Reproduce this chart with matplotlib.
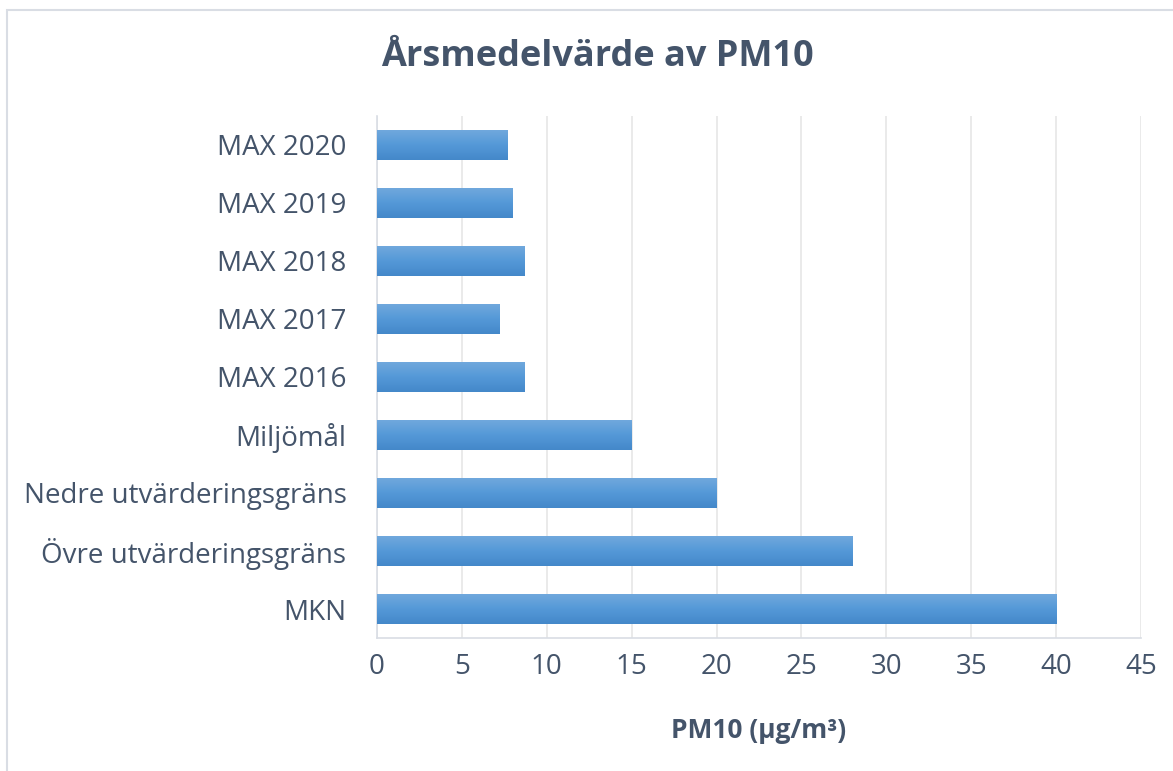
import numpy as np
import matplotlib
matplotlib.use("Agg")
from matplotlib import pyplot as plt
from matplotlib.patches import Rectangle

# data
categories = ["MKN", "Övre utvärderingsgräns", "Nedre utvärderingsgräns", "Miljömål",
              "MAX 2016", "MAX 2017", "MAX 2018", "MAX 2019", "MAX 2020"]
values = [40, 28, 20, 15, 8.7, 7.2, 8.7, 8.0, 7.7]
xticks = [0, 5, 10, 15, 20, 25, 30, 35, 40, 45]

txt = "#44546A"
plt.rcParams['font.family'] = ['Open Sans', 'DejaVu Sans']

fig = plt.figure(figsize=(11.73, 7.71), dpi=100)
ax = fig.add_axes([377/1173, 1 - 638/771, (1141 - 377)/1173, (638 - 116)/771])

# chart frame
fig.patches.append(Rectangle((7/1173, -0.05), 1.1, 1.05 - 10/771,
                             transform=fig.transFigure, fill=False,
                             edgecolor="#D9DDE4", linewidth=1.5))

y = np.arange(len(categories))
bars = ax.barh(y, values, height=0.52, color="#5B9BD5", zorder=2)

# vertical gradient inside each bar, light on top
grad = np.linspace(0, 1, 64).reshape(-1, 1)
cmap = matplotlib.colors.LinearSegmentedColormap.from_list("g", ["#72A9DD", "#5599D8", "#4488C9"])
for b in bars:
    x0, y0, w, h = b.get_x(), b.get_y(), b.get_width(), b.get_height()
    im = ax.imshow(grad, extent=[x0, x0 + w, y0, y0 + h], aspect="auto",
                   cmap=cmap, zorder=3, origin="upper")
    im.set_clip_path(b)

ax.set_xlim(0, 45)
ax.set_ylim(-0.5, len(categories) - 0.5)
ax.set_xticks(xticks)
ax.set_yticks(y)
ax.set_yticklabels(categories)
ax.tick_params(axis="both", length=0, labelsize=20, colors=txt)
ax.tick_params(axis="x", pad=11)
ax.tick_params(axis="y", pad=22)
ax.grid(axis="x", color="#E6E6E6", linewidth=1.2, zorder=0)
ax.set_axisbelow(True)
for s in ["top", "right"]:
    ax.spines[s].set_visible(False)
for s in ["left", "bottom"]:
    ax.spines[s].set_color("#D9DDE4")
    ax.spines[s].set_linewidth(1.2)

ax.set_xlabel("PM10 (µg/m³)", fontsize=19, fontweight="bold", color=txt, labelpad=26)
fig.text(597/1173, 1 - 57/771, "Årsmedelvärde av PM10", fontsize=26, fontweight="bold",
         color=txt, ha="center", va="center")

fig.savefig("out.png", dpi=100)
